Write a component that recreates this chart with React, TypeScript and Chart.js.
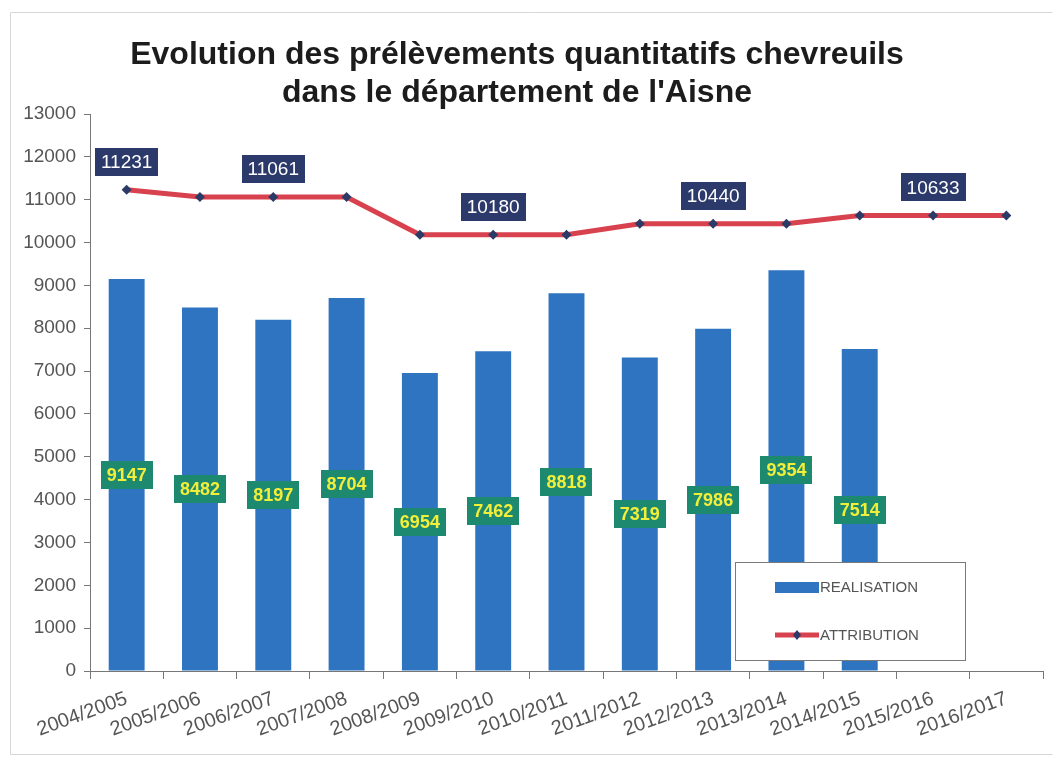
import React, { useEffect, useRef } from "react";
import { Chart, registerables } from "chart.js";

Chart.register(...registerables);

const categories = [
  "2004/2005", "2005/2006", "2006/2007", "2007/2008", "2008/2009", "2009/2010",
  "2010/2011", "2011/2012", "2012/2013", "2013/2014", "2014/2015", "2015/2016", "2016/2017",
];
const realisation: (number | null)[] = [9147, 8482, 8197, 8704, 6954, 7462, 8818, 7319, 7986, 9354, 7514, null, null];
const attribution = [11231, 11061, 11061, 11061, 10180, 10180, 10180, 10440, 10440, 10440, 10633, 10633, 10633];
const attributionLabelIndex = [0, 2, 5, 8, 11];
const titleLines = ["Evolution des prélèvements quantitatifs chevreuils", "dans le département de l'Aisne"];
const seriesNames = ["REALISATION", "ATTRIBUTION"];

const FONT = "'Liberation Sans', Arial, sans-serif";
const BAR_COLOR = "#2f74c1";
const LINE_COLOR = "#d8414e";
const POINT_COLOR = "#2c3a68";

function box(ctx: CanvasRenderingContext2D, text: string, cx: number, cy: number, bg: string, fg: string, font: string) {
  ctx.font = font;
  const tw = ctx.measureText(text).width;
  const w = tw + 12;
  const h = 28;
  ctx.fillStyle = bg;
  ctx.fillRect(Math.round(cx - w / 2), Math.round(cy - h / 2), Math.round(w), h);
  ctx.fillStyle = fg;
  ctx.textAlign = "center";
  ctx.textBaseline = "middle";
  ctx.fillText(text, cx, cy + 1);
}

const decorPlugin = {
  id: "decor",
  afterDatasetsDraw(chart: any) {
    const ctx: CanvasRenderingContext2D = chart.ctx;
    ctx.save();
    const barMeta = chart.getDatasetMeta(0);
    barMeta.data.forEach((el: any, i: number) => {
      const v = realisation[i];
      if (v == null) return;
      const p = el.getProps(["x", "y", "base"], true);
      box(ctx, String(v), p.x, (p.y + p.base) / 2, "#1d8a70", "#f2ee3a", `bold 18px ${FONT}`);
    });
    const lineMeta = chart.getDatasetMeta(1);
    attributionLabelIndex.forEach((i) => {
      const el = lineMeta.data[i];
      if (!el) return;
      box(ctx, String(attribution[i]), el.x, el.y - 28, "#2b3a6a", "#ffffff", `19px ${FONT}`);
    });
    ctx.restore();
  },
  afterDraw(chart: any) {
    const ctx: CanvasRenderingContext2D = chart.ctx;
    ctx.save();
    // frame
    ctx.strokeStyle = "#d6d6d6";
    ctx.lineWidth = 1;
    ctx.beginPath();
    ctx.moveTo(1052.5, 12.5);
    ctx.lineTo(10.5, 12.5);
    ctx.lineTo(10.5, 754.5);
    ctx.lineTo(1052.5, 754.5);
    ctx.stroke();
    // title
    ctx.fillStyle = "#1c1c1c";
    ctx.font = `bold 32px ${FONT}`;
    ctx.textAlign = "center";
    ctx.textBaseline = "middle";
    ctx.fillText(titleLines[0], 517, 55);
    ctx.fillText(titleLines[1], 517, 93);
    // legend
    const lx = 735, ly = 562, lw = 230, lh = 98;
    ctx.fillStyle = "#ffffff";
    ctx.fillRect(lx, ly, lw, lh);
    ctx.strokeStyle = "#7a7a7a";
    ctx.strokeRect(lx + 0.5, ly + 0.5, lw, lh);
    ctx.fillStyle = BAR_COLOR;
    ctx.fillRect(775, 582, 44, 11);
    ctx.strokeStyle = LINE_COLOR;
    ctx.lineWidth = 5;
    ctx.beginPath();
    ctx.moveTo(775, 635);
    ctx.lineTo(819, 635);
    ctx.stroke();
    ctx.fillStyle = POINT_COLOR;
    ctx.beginPath();
    ctx.moveTo(797, 630);
    ctx.lineTo(801, 635);
    ctx.lineTo(797, 640);
    ctx.lineTo(793, 635);
    ctx.closePath();
    ctx.fill();
    ctx.fillStyle = "#555555";
    ctx.font = `15px ${FONT}`;
    ctx.textAlign = "left";
    ctx.textBaseline = "middle";
    ctx.fillText(seriesNames[0], 820, 588);
    ctx.fillText(seriesNames[1], 820, 636);
    ctx.restore();
  },
};

export default function App() {
  const ref = useRef<HTMLCanvasElement>(null);
  useEffect(() => {
    if (!ref.current) return;
    const chart = new Chart(ref.current, {
      type: "bar",
      data: {
        labels: categories,
        datasets: [
          {
            type: "bar",
            label: seriesNames[0],
            data: realisation as any,
            backgroundColor: BAR_COLOR,
            barPercentage: 0.49,
            categoryPercentage: 1,
            order: 2,
          },
          {
            type: "line",
            label: seriesNames[1],
            data: attribution,
            borderColor: LINE_COLOR,
            borderWidth: 5,
            pointStyle: "rectRot",
            pointRadius: 5,
            pointBackgroundColor: POINT_COLOR,
            pointBorderColor: POINT_COLOR,
            pointBorderWidth: 0,
            tension: 0,
            order: 1,
          },
        ],
      },
      options: {
        animation: false,
        responsive: false,
        maintainAspectRatio: false,
        layout: { padding: { left: 0, top: 114, right: 19, bottom: 0 } },
        plugins: {
          legend: { display: false },
          title: { display: false },
          tooltip: { enabled: false },
        },
        scales: {
          x: {
            offset: true,
            grid: { drawOnChartArea: false, color: "#777", tickLength: 8, offset: true },
            border: { color: "#777", width: 1 },
            ticks: {
              color: "#555",
              font: { family: FONT, size: 20 },
              minRotation: 20,
              maxRotation: 20,
              padding: 8,
              autoSkip: false,
            },
            afterFit: (s: any) => {
              s.height = 86;
            },
          },
          y: {
            min: 0,
            max: 13000,
            grid: { drawOnChartArea: false, color: "#777", tickLength: 6 },
            border: { color: "#777", width: 1 },
            ticks: {
              stepSize: 1000,
              color: "#555",
              font: { family: FONT, size: 19 },
              padding: 8,
              callback: (v: any) => String(v),
            },
            afterFit: (s: any) => {
              s.width = 90;
            },
          },
        },
      },
      plugins: [decorPlugin],
    });
    return () => chart.destroy();
  }, []);
  return (
    <div style={{ position: "absolute", left: 0, top: 0, width: 1062, height: 757, background: "#fff" }}>
      <canvas ref={ref} width={1062} height={757} style={{ display: "block", width: 1062, height: 757 }} />
    </div>
  );
}
